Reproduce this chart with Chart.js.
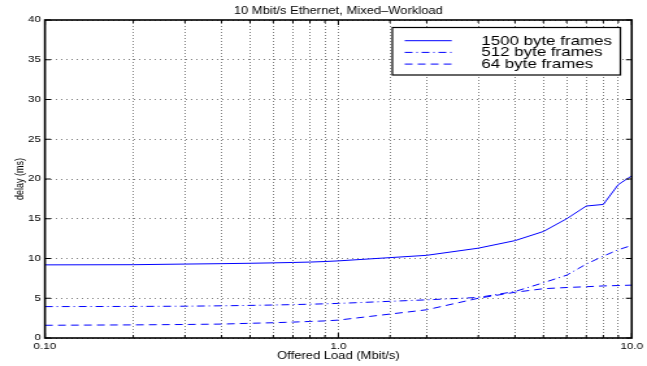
<!DOCTYPE html>
<html>
<head>
<meta charset="utf-8">
<script src="https://cdn.jsdelivr.net/npm/chart.js@4"></script>
<style>
  html, body { margin: 0; padding: 0; background: #fff; overflow: hidden; }
  /* the figure is drawn narrow and widened, like the exported plot */
  #wrap { width: 498px; height: 366px; transform: scaleX(1.2992); transform-origin: 0 0; }
</style>
</head>
<body>
<div id="wrap"><canvas id="delayChart" width="498" height="366"></canvas></div>
<script>
// offered load (Mbit/s) and mean delay (ms) per frame size
const loads = [0.1, 0.2, 0.3, 0.4, 0.5, 0.6, 0.7, 0.8, 0.9, 1, 2, 3, 4, 5, 6, 7, 8, 9, 10];
const delay1500 = [9.2, 9.22, 9.3, 9.35, 9.4, 9.45, 9.5, 9.55, 9.62, 9.7, 10.4, 11.3, 12.25, 13.4, 15.0, 16.6, 16.8, 19.3, 20.4];
const delay512 = [3.95, 3.97, 4.0, 4.05, 4.1, 4.15, 4.2, 4.25, 4.3, 4.35, 4.8, 5.1, 5.85, 6.95, 7.9, 9.3, 10.3, 11.1, 11.65];
const delay64 = [1.6, 1.65, 1.7, 1.75, 1.85, 1.92, 2.0, 2.08, 2.15, 2.25, 3.55, 5.0, 5.75, 6.2, 6.35, 6.45, 6.55, 6.6, 6.65];

const seriesNames = ['1500 byte frames', '512 byte frames', '64 byte frames'];
const decadeTicks = [0.1, 1, 10];
const decadeLabels = ['0.10', '1.0', '10.0'];

const FONT = "'Liberation Sans', Arial, Helvetica, sans-serif";
Chart.defaults.font.family = FONT;
Chart.defaults.color = '#000';

const pts = (ys) => loads.map((x, i) => ({ x: x, y: ys[i] }));

const line = (label, ys, dash) => ({
  label: label,
  data: pts(ys),
  borderColor: '#0000ff',
  borderWidth: 1,
  borderDash: dash,
  pointRadius: 0,
  fill: false,
  tension: 0
});

// box around the axes plus the short inward ticks
const framePlugin = {
  id: 'frame',
  afterDatasetsDraw(chart) {
    const { ctx, chartArea: a, scales } = chart;
    ctx.save();
    ctx.strokeStyle = '#000';
    ctx.lineWidth = 1;
    ctx.beginPath();
    scales.y.ticks.forEach(t => {
      const py = scales.y.getPixelForValue(t.value);
      ctx.moveTo(a.left, py); ctx.lineTo(a.left + 4.5, py);
      ctx.moveTo(a.right, py); ctx.lineTo(a.right - 4.5, py);
    });
    scales.x.ticks.forEach(t => {
      const px = scales.x.getPixelForValue(t.value);
      const len = decadeTicks.includes(+t.value.toPrecision(6)) ? 5 : 3;
      ctx.moveTo(px, a.bottom); ctx.lineTo(px, a.bottom - len);
      ctx.moveTo(px, a.top); ctx.lineTo(px, a.top + len);
    });
    ctx.stroke();
    ctx.lineWidth = 1.6;
    ctx.strokeRect(a.left, a.top, a.right - a.left, a.bottom - a.top);
    ctx.restore();
  }
};

// legend box in the upper right corner of the plot
const legendPlugin = {
  id: 'boxLegend',
  afterDraw(chart) {
    const { ctx } = chart;
    const x0 = 302, y0 = 27.5, w = 175.5, h = 47.5;
    ctx.save();
    ctx.fillStyle = '#fff';
    ctx.fillRect(x0, y0, w, h);
    ctx.strokeStyle = '#000';
    ctx.lineWidth = 1.2;
    ctx.strokeRect(x0, y0, w, h);
    ctx.font = '13px ' + FONT;
    ctx.textBaseline = 'middle';
    ctx.textAlign = 'left';
    chart.data.datasets.forEach((ds, i) => {
      const yy = y0 + 13.2 + i * 11.7;
      ctx.strokeStyle = ds.borderColor;
      ctx.lineWidth = 1;
      ctx.setLineDash(ds.borderDash);
      ctx.beginPath();
      ctx.moveTo(x0 + 9.5, yy);
      ctx.lineTo(x0 + 45.7, yy);
      ctx.stroke();
      ctx.setLineDash([]);
      ctx.fillStyle = '#000';
      ctx.fillText(ds.label, x0 + 68.5, yy + 0.5);
    });
    ctx.restore();
  }
};

new Chart(document.getElementById('delayChart').getContext('2d'), {
  type: 'line',
  data: {
    datasets: [
      line(seriesNames[0], delay1500, []),
      line(seriesNames[1], delay512, [6, 3, 1, 3]),
      line(seriesNames[2], delay64, [6, 4])
    ]
  },
  options: {
    responsive: false,
    animation: false,
    devicePixelRatio: 1,
    layout: { padding: { top: 0, right: 8.6, left: 0, bottom: 0 } },
    plugins: {
      legend: { display: false },
      tooltip: { enabled: false },
      title: {
        display: true,
        fullSize: false,
        text: '10 Mbit/s Ethernet, Mixed–Workload',
        font: { size: 10, weight: 'normal' },
        padding: { top: 5, bottom: 3 }
      }
    },
    scales: {
      x: {
        type: 'logarithmic',
        min: 0.1,
        max: 10,
        afterFit(scale) { scale.height = 28; },
        grid: { color: 'rgba(0,0,0,0.5)', drawTicks: false, tickLength: 0 },
        border: { display: false, dash: [1, 2] },
        ticks: {
          autoSkip: false,
          maxRotation: 0,
          padding: 3,
          font: { size: 9 },
          callback(value) {
            const i = decadeTicks.findIndex(d => Math.abs(d - value) < 1e-9);
            return i >= 0 ? decadeLabels[i] : '';
          }
        },
        title: {
          display: true,
          text: 'Offered Load (Mbit/s)',
          font: { size: 10 },
          padding: { top: 0, bottom: 4 }
        }
      },
      y: {
        min: 0,
        max: 40,
        afterFit(scale) { scale.width = 34.6; },
        grid: { color: 'rgba(0,0,0,0.5)', drawTicks: false, tickLength: 0 },
        border: { display: false, dash: [1, 3] },
        ticks: { stepSize: 5, padding: 3, font: { size: 9 } },
        title: {
          display: true,
          text: 'delay (ms)',
          font: { size: 9 },
          padding: { top: 10, bottom: 0 }
        }
      }
    }
  },
  plugins: [framePlugin, legendPlugin]
});
</script>
</body>
</html>
